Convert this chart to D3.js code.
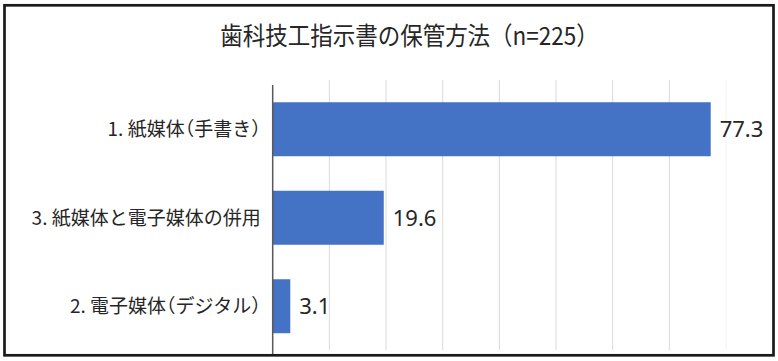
<!DOCTYPE html>
<html>
<head>
<meta charset="utf-8">
<script src="https://cdn.jsdelivr.net/npm/d3@7"></script>
<style>
  html, body { margin: 0; padding: 0; background: #fff; }
  svg { display: block; }
  .paren { font-feature-settings: "halt" 1; }
</style>
</head>
<body>
<svg id="chart" width="778" height="361"></svg>
<script>
const title = '歯科技工指示書の保管方法（n=225）';
const categories = ['1. 紙媒体（手書き）', '3. 紙媒体と電子媒体の併用', '2. 電子媒体（デジタル）'];
const values = [77.3, 19.6, 3.1];
const xTicks = [0, 10, 20, 30, 40, 50, 60, 70, 80];

const svg = d3.select('#chart');
const cjk = '"Noto Sans CJK JP", "Noto Sans", sans-serif';

// outer frame
svg.append('rect')
  .attr('x', 4.5).attr('y', 5.3)
  .attr('width', 769).attr('height', 350)
  .attr('fill', '#fff')
  .attr('stroke', '#1a1a1a')
  .attr('stroke-width', 2.7);

const x = d3.scaleLinear()
  .domain([0, 80])
  .range([272.7, 726]);

const y = d3.scaleBand()
  .domain(categories)
  .range([85, 350.5])
  .paddingInner(0.39)
  .paddingOuter(0.195);

// gridlines
svg.append('g')
  .selectAll('line')
  .data(xTicks.slice(1))
  .join('line')
  .attr('x1', d => x(d)).attr('x2', d => x(d))
  .attr('y1', 80).attr('y2', 350)
  .attr('stroke', d => d === 80 ? '#f2f2f2' : '#d9d9d9')
  .attr('stroke-width', 1);

// bars
svg.append('g')
  .selectAll('rect')
  .data(values)
  .join('rect')
  .attr('x', x(0))
  .attr('y', (d, i) => y(categories[i]))
  .attr('width', d => x(d) - x(0))
  .attr('height', y.bandwidth())
  .attr('fill', '#4472c4');

// category axis, parentheses set half width like the original font
const yAxis = svg.append('g')
  .attr('transform', `translate(${x(0)},0)`)
  .call(d3.axisLeft(y).tickSize(0).tickPadding(12));
yAxis.select('.domain').remove();
yAxis.selectAll('text')
  .attr('font-family', cjk)
  .attr('font-size', 19)
  .attr('fill', '#262626')
  .attr('dy', '0.37em')
  .each(function(d) {
    const t = d3.select(this).text(null);
    d.split(/([（）])/).filter(s => s).forEach(s => {
      t.append('tspan')
        .attr('class', /[（）]/.test(s) ? 'paren' : null)
        .text(s);
    });
  });

svg.append('line')
  .attr('x1', x(0)).attr('x2', x(0))
  .attr('y1', 85).attr('y2', 354)
  .attr('stroke', '#595959')
  .attr('stroke-width', 1.5);

// value labels
svg.append('g')
  .selectAll('text')
  .data(values)
  .join('text')
  .attr('x', d => x(d) + 9)
  .attr('y', (d, i) => y(categories[i]) + y.bandwidth() / 2)
  .attr('dy', '0.36em')
  .attr('font-family', '"Noto Sans", sans-serif')
  .attr('font-size', 22)
  .attr('fill', '#262626')
  .text(d => d.toFixed(1));

// title
svg.append('text')
  .attr('transform', 'translate(409.5,44.8) scale(0.9,1)')
  .attr('text-anchor', 'middle')
  .attr('font-family', cjk)
  .attr('font-size', 25)
  .attr('fill', '#262626')
  .text(title);
</script>
</body>
</html>
